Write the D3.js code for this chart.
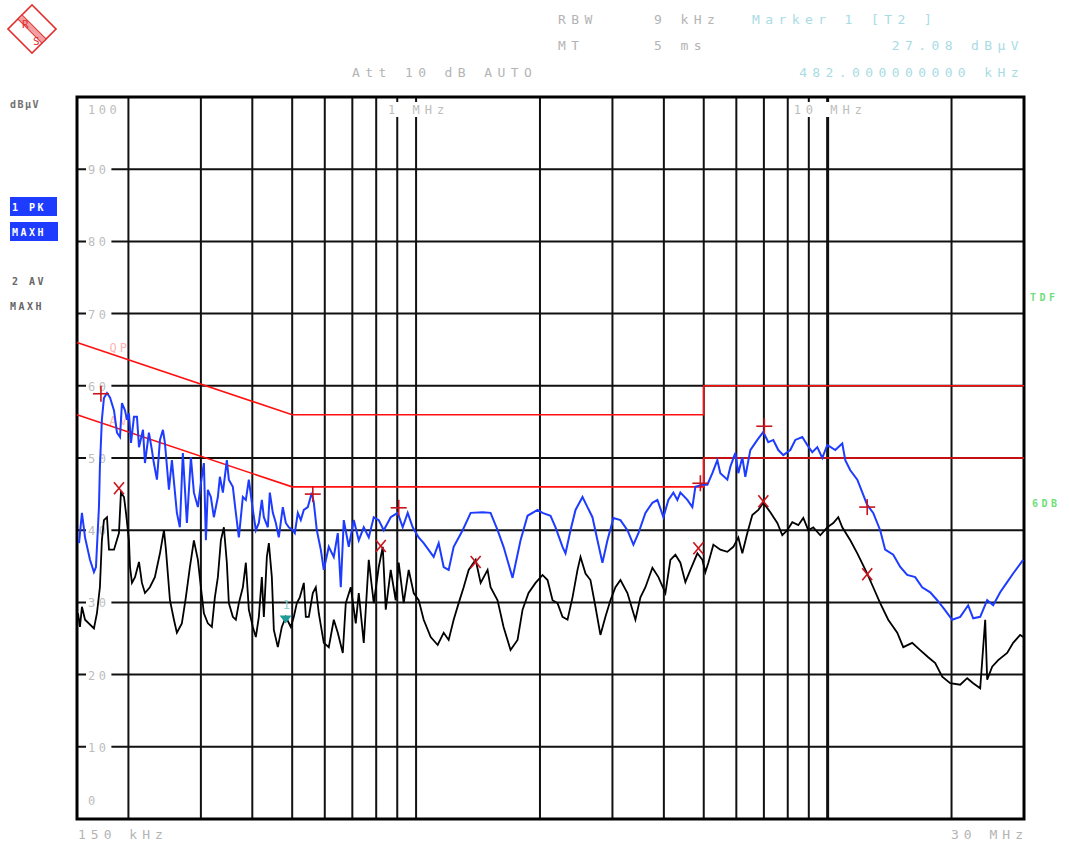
<!DOCTYPE html>
<html>
<head>
<meta charset="utf-8">
<script src="https://cdn.jsdelivr.net/npm/d3@7/dist/d3.min.js"></script>
<style>
  body { margin: 0; background: #fff; }
  text { font-family: "DejaVu Sans Mono", monospace; }
</style>
</head>
<body>
<svg id="emiChart"></svg>
<script>
// frequency in MHz, level in dBuV
let pkFreq = [0.1517,0.1542,0.1569,0.1613,0.1649,0.1668,0.1696,0.1705,0.1724,0.1744,0.1774,0.1804,0.1845,0.1876,0.1908,0.1929,0.1962,0.1984,0.2006,0.2029,0.2063,0.2098,0.2122,0.2170,0.2194,0.2243,0.2281,0.2306,0.2346,0.2386,0.2426,0.2453,0.2509,0.2551,0.2623,0.2667,0.2712,0.2774,0.2837,0.2885,0.2950,0.3000,0.3051,0.3085,0.3119,0.3172,0.3226,0.3299,0.3336,0.3393,0.3469,0.3508,0.3587,0.3648,0.3710,0.3794,0.3858,0.3923,0.4012,0.4080,0.4149,0.4219,0.4267,0.4363,0.4412,0.4487,0.4563,0.4639,0.4744,0.4825,0.4906,0.5017,0.5074,0.5160,0.5247,0.5336,0.5456,0.5580,0.5643,0.5738,
  0.5868,0.5967,0.6136,0.6310,0.6453,0.6562,0.6673,0.6862,0.7057,0.7256,0.7462,0.7674,0.7892,0.8115,0.8345,0.8677,0.9023,0.9279,0.9542,0.9813,1.0147,1.0435,1.1035,1.1348,1.1670,1.2000,1.2340,1.2977,1.3571,1.4513,1.5170,1.5776,1.6314,1.7156,1.7941,1.8657,1.9730,2.0289,2.1217,2.1819,2.2689,2.3073,2.3727,2.4400,2.5374,2.6085,2.6825,2.7584,2.8365,2.9172,3.0168,3.1373,3.2622,3.3734,3.4694,3.6080,3.7517,3.8585,3.9901,4.1024,4.2189,4.3140,4.3870,4.5624,4.6917,4.7711,4.9616,5.1024,5.2470,5.3950,5.4862,5.7058,5.8022,5.9668,6.0672,6.2046,6.3096,6.4884,6.7476,6.9777,7.1755,7.3791,7.5880,7.8034,8.1143,8.3444,8.6782,8.9237,9.1766,9.4376,9.7050,9.9796,10.436,10.853,11.037,11.351,11.806,12.479,12.905,13.417,13.797,14.434,15.012,15.607,16.321,16.970,17.752,18.463,19.307,20.072,20.994,21.953,22.576,23.479,24.416,25.249,26.260,27.302,28.233,29.855];
let pkLevel = [38.2,42.4,39,35.9,34.2,34.9,43.2,48.8,55.3,58.3,59,58.4,56.6,53.5,52.9,57.6,56.6,55.3,56.2,52.1,55.7,55.7,51.5,53.9,49.3,53.5,51.1,49.3,47,52.5,53.9,52.1,45.6,49.7,42.4,40.4,50.7,41,50.1,45.2,43.2,46.5,49.3,38.6,45.6,44.6,41.8,44.6,47.4,45.2,49.7,47,46,42.4,39,44.6,44.2,47,42.8,40,41,44.2,41.8,40.4,45.2,42.4,41,39,43.2,41,40.4,40,39.6,42.4,41.4,42.8,43.2,45.2,43.8,40,
  37.3,34.5,37.7,36.3,39.6,32.1,41.4,37.7,41.4,38.6,40.4,39,41.8,41.4,40,41.8,42.4,40.4,42.4,40.4,39,38.2,36.3,38.2,34.9,34.5,37.7,40,42.4,42.5,42.4,40,37.7,33.4,38.6,42,42.8,42.4,42,40.4,37.7,36.8,40,42.8,44.6,43.2,41.8,38.6,35.5,38.6,41.7,41.4,40,38,39.6,42.4,43.8,44.2,41.8,44.2,45.2,44.2,45.2,44.2,43.2,46,46.3,46.3,47.9,49.7,47.9,47,48.8,50.7,47.9,50.1,47.4,51.1,52.5,53.6,52.2,52.5,51.1,50.4,51.1,52.5,52.9,51.8,50.8,51.5,50,51.8,51.1,52,49.7,48.3,47,43.5,42.4,40,37.3,36.6,34.9,33.8,33.5,32.1,31.4,30.3,28.9,27.6,28,29.6,27.8,28,30.3,29.6,31.4,32.8,34,35.9];

let avFreq = [0.1508,0.1525,0.1542,0.1569,0.1649,0.1677,0.1705,0.1724,0.1744,0.1774,0.1794,0.1845,0.1897,0.1918,0.1951,0.1973,0.2006,0.2018,0.2040,0.2075,0.2122,0.2157,0.2194,0.2255,0.2319,0.2386,0.2440,0.2467,0.2523,0.2580,0.2623,0.2697,0.2758,0.2821,0.2885,0.2950,0.3000,0.3051,0.3119,0.3190,0.3244,0.3299,0.3355,0.3412,0.3469,0.3508,0.3587,0.3648,0.3710,0.3794,0.3858,0.3923,0.4012,0.4080,0.4149,0.4219,0.4267,0.4339,0.4388,0.4462,0.4512,0.4614,0.4718,0.4825,0.4962,0.5046,0.5131,0.5218,0.5336,0.5396,0.5487,0.5611,0.5706,0.5802,
  0.5967,0.6136,0.6310,0.6453,0.6636,0.6748,0.6939,0.7136,0.7256,0.7462,0.7674,0.7892,0.8115,0.8299,0.8439,0.8677,0.8923,0.9073,0.9331,0.9595,0.9868,1.0147,1.0435,1.0852,1.1285,1.1670,1.2000,1.2340,1.2690,1.3050,1.3420,1.3956,1.4351,1.4918,1.5170,1.5776,1.6314,1.6965,1.7642,1.8142,1.8761,1.9510,2.0289,2.0864,2.1456,2.2064,2.2689,2.3333,2.3994,2.4674,2.5092,2.5803,2.6526,2.7279,2.8050,2.8846,2.9666,3.0507,3.1373,3.2622,3.4114,3.5085,3.6080,3.7517,3.8800,4.0350,4.1487,4.2663,4.3870,4.5114,4.6395,4.8249,4.9616,5.0456,5.1308,5.2765,5.4862,5.7058,5.9004,6.0672,6.2046,6.3805,6.5614,6.7852,6.9777,7.2564,7.5460,7.7599,7.9794,8.2056,8.4860,8.7268,8.9734,9.2281,9.5971,9.9796,10.320,10.613,10.853,11.351,11.806,12.479,12.905,13.417,14.035,14.762,15.266,16.049,16.781,17.554,18.256,18.986,19.849,20.994,21.832,22.576,23.479,24.145,24.416,25.108,25.968,27.302,28.233,29.359,29.855];
let avLevel = [28.5,26.6,29.4,27.6,26.4,28.5,32.1,38.6,41.4,41.8,37.3,37.3,39.6,45.2,44.6,42.4,38.6,34.9,32.7,33.5,35.6,32.7,31.3,32.1,33.5,36.8,40,37.3,30.3,27.6,25.8,27.1,30.7,34.9,38.6,35.9,32.1,28.5,27.1,26.6,30.7,33.5,38.6,40.4,35.5,29.9,28,27.6,29.9,32.1,35.5,29,26.6,25.2,28,33.5,28,36.3,38.2,33.5,26.2,23.8,26.6,28,26.6,28,29.9,30.7,32.7,28,28,31.3,32.1,28.5,
  24.4,23.8,27.6,25.8,23,29.9,32.1,27.1,31.3,24.4,35.9,29.9,34.9,37.7,29,34.5,30.3,35.5,29.9,34.5,31.3,30.3,27.6,25.2,24.1,25.8,24.8,27.6,29.9,32.1,34.5,35.9,32.7,34.5,32.1,30.3,26.6,23.4,24.8,29,31.3,32.7,33.8,33.1,30.3,29.9,28,27.6,30.7,34.5,36.3,34,33.1,29.4,25.5,28,30.3,32.1,33.1,31.3,27.6,30.7,32.1,34.8,33.5,31.3,35.9,36.6,35.5,32.8,34.5,36.8,35.9,34.2,35.5,38,37.3,37,37.7,39,36.8,39.6,42.1,42.8,43.8,42.5,41,39.3,40,41.1,40.7,41.7,40,40.4,39.3,40.4,41,41.8,40.4,38.6,36.8,34,32.1,29.9,27.6,25.8,23.8,24.4,23.4,22.4,21.6,19.7,18.8,18.6,19.5,18.8,18.1,27.6,19.3,21.1,22,23,24.4,25.5,25.2];

// EN 55022 class B limits
let qpLimitFreq = [0.15,0.5,0.5,5,5,30];
let qpLimitLevel = [66,56,56,56,60,60];
let avLimitFreq = [0.15,0.5,0.5,5,5,30];
let avLimitLevel = [56,46,46,46,50,50];

let pkMarkFreq = [0.1715,0.5611,0.9073,4.906,7.017,12.479];
let pkMarkLevel = [58.9,45.0,43.1,46.5,54.4,43.2];
let avMarkFreq = [0.1897,0.8206,1.3956,4.852,6.978,12.479];
let avMarkLevel = [45.8,37.8,35.6,37.5,44.0,33.9];
let marker1 = {freq: 0.482, level: 27.08};

let gridFreqs = [0.2,0.3,0.4,0.5,0.6,0.7,0.8,0.9,1,2,3,4,5,6,7,8,9,10,20];
let yTicks = [0,10,20,30,40,50,60,70,80,90,100];

function getConfig(){
    let width = 1069;
    let height = 843;
    let plot = {left: 77, right: 1024, top: 97, bottom: 819};
    let svg = d3.select("#emiChart")
        .attr("width", width)
        .attr("height", height);
    svg.append("rect").attr("width", width).attr("height", height).attr("fill", "#fff");
    return {width, height, plot, svg};
}

function getScales(config){
    let {plot} = config;
    let xScale = d3.scaleLog()
        .domain([0.15, 30])
        .range([plot.left, plot.right]);
    let yScale = d3.scaleLinear()
        .domain([0, 100])
        .range([plot.bottom, plot.top]);
    return {xScale, yScale};
}

function drawGrid(scales, config){
    let {xScale, yScale} = scales;
    let {svg, plot} = config;
    let g = svg.append("g");
    g.selectAll(".vgrid")
        .data(gridFreqs)
        .enter().append("line")
        .attr("x1", d => xScale(d)).attr("x2", d => xScale(d))
        .attr("y1", plot.top).attr("y2", plot.bottom)
        .attr("stroke", "#111")
        .attr("stroke-width", d => d == 10 ? 3 : 2);
    g.selectAll(".hgrid")
        .data(yTicks.filter(d => d > 0 && d < 100))
        .enter().append("line")
        .attr("x1", plot.left).attr("x2", plot.right)
        .attr("y1", d => yScale(d)).attr("y2", d => yScale(d))
        .attr("stroke", "#111")
        .attr("stroke-width", 2);

    // y labels sit inside the plot on a white patch
    let labs = svg.append("g");
    yTicks.forEach(t => {
        let y = t == 100 ? yScale(t) + 17 : (t == 0 ? yScale(t) - 14 : yScale(t) + 5);
        let w = String(t).length * 10.7;
        labs.append("rect")
            .attr("x", plot.left + 9).attr("y", y - 11)
            .attr("width", w + 4).attr("height", 14)
            .attr("fill", "#fff");
        labs.append("text")
            .attr("x", plot.left + 11).attr("y", y)
            .text(t)
            .style("font-size", "12px")
            .style("letter-spacing", "3.5px")
            .style("fill", "#bdbdbd");
    });

    // decade labels at top
    [[1, "1 MHz"], [10, "10 MHz"]].forEach(([f, s]) => {
        let x = xScale(f) - (f == 1 ? 28 : 34);
        labs.append("rect")
            .attr("x", x - 2).attr("y", plot.top + 5)
            .attr("width", s.length * 12.2 + 2).attr("height", 15)
            .attr("fill", "#fff");
        labs.append("text")
            .attr("x", x).attr("y", plot.top + 17)
            .text(s)
            .style("font-size", "12px")
            .style("letter-spacing", "5px")
            .style("fill", "#bdbdbd");
    });

    svg.append("rect")
        .attr("x", plot.left).attr("y", plot.top)
        .attr("width", plot.right - plot.left)
        .attr("height", plot.bottom - plot.top)
        .attr("fill", "none")
        .attr("stroke", "#000")
        .attr("stroke-width", 3);
}

function drawLimits(scales, config){
    let {xScale, yScale} = scales;
    let {svg} = config;
    let line = d3.line().x(d => xScale(d[0])).y(d => yScale(d[1]));
    let qp = qpLimitFreq.map((f, i) => [f, qpLimitLevel[i]]);
    let av = avLimitFreq.map((f, i) => [f, avLimitLevel[i]]);
    svg.append("text").attr("x", xScale(0.18)).attr("y", yScale(66) + 10)
        .text("QP").style("font-size", "12px").style("fill", "#ffb4b4").style("letter-spacing", "3px");
    svg.append("text").attr("x", xScale(0.18)).attr("y", yScale(56) + 10)
        .text("AV").style("font-size", "12px").style("fill", "#ffb4b4").style("letter-spacing", "3px");
    [qp, av].forEach(pts => {
        svg.append("path")
            .attr("d", line(pts))
            .attr("fill", "none")
            .attr("stroke", "#ff1010")
            .attr("stroke-width", 1.6);
    });
}

function drawTraces(scales, config){
    let {xScale, yScale} = scales;
    let {svg} = config;
    let line = d3.line().x(d => xScale(d[0])).y(d => yScale(d[1]));
    let av = avFreq.map((f, i) => [f, avLevel[i]]);
    let pk = pkFreq.map((f, i) => [f, pkLevel[i]]);
    svg.append("path")
        .attr("d", line(av))
        .attr("fill", "none")
        .attr("stroke", "#000")
        .attr("stroke-width", 1.8);
    svg.append("path")
        .attr("d", line(pk))
        .attr("fill", "none")
        .attr("stroke", "#1e3cff")
        .attr("stroke-width", 2);
}

function drawMarkers(scales, config){
    let {xScale, yScale} = scales;
    let {svg} = config;
    let g = svg.append("g").attr("stroke", "#c8141e").attr("stroke-width", 1.6);
    pkMarkFreq.forEach((f, i) => {
        let x = xScale(f), y = yScale(pkMarkLevel[i]);
        g.append("line").attr("x1", x - 8).attr("x2", x + 8).attr("y1", y).attr("y2", y);
        g.append("line").attr("x1", x).attr("x2", x).attr("y1", y - 8).attr("y2", y + 8);
    });
    avMarkFreq.forEach((f, i) => {
        let x = xScale(f), y = yScale(avMarkLevel[i]);
        g.append("line").attr("x1", x - 5).attr("x2", x + 5).attr("y1", y - 6).attr("y2", y + 6);
        g.append("line").attr("x1", x - 5).attr("x2", x + 5).attr("y1", y + 6).attr("y2", y - 6);
    });
    let mx = xScale(marker1.freq), my = yScale(marker1.level);
    svg.append("path")
        .attr("d", `M${mx - 6},${my - 8} L${mx + 6},${my - 8} L${mx},${my} Z`)
        .attr("fill", "#1f9a9a");
    svg.append("text").attr("x", mx - 3).attr("y", my - 14)
        .text("1").style("font-size", "12px").style("fill", "#8fd0d0");
}

function drawText(config){
    let {svg} = config;
    let grey = "#b4b4b4", cyan = "#a8dce4";
    let txt = (x, y, s, fill, anchor, size, sp) => svg.append("text")
        .attr("x", x).attr("y", y)
        .attr("text-anchor", anchor || "start")
        .text(s)
        .style("font-size", (size || 13) + "px")
        .style("letter-spacing", (sp == null ? 5.4 : sp) + "px")
        .style("fill", fill);
    txt(558, 24, "RBW", grey);
    txt(654, 24, "9 kHz", grey);
    txt(752, 24, "Marker 1 [T2 ]", cyan);
    txt(558, 50, "MT", grey);
    txt(654, 50, "5 ms", grey);
    txt(1024, 50, "27.08 dBµV", cyan, "end");
    txt(352, 77, "Att 10 dB AUTO", grey);
    txt(1024, 77, "482.000000000 kHz", cyan, "end");
    txt(78, 839, "150 kHz", grey, "start", 13, 5);
    txt(1028, 839, "30 MHz", grey, "end", 13, 5);

    txt(10, 108, "dBµV", "#707070", "start", 10, 1.5).style("font-weight", "bold");

    svg.append("rect").attr("x", 10).attr("y", 197).attr("width", 47).attr("height", 19).attr("fill", "#1e3cff");
    svg.append("rect").attr("x", 10).attr("y", 222).attr("width", 48).attr("height", 19).attr("fill", "#1e3cff");
    txt(12, 211, "1 PK", "#fff", "start", 10, 2.5).style("font-weight", "bold");
    txt(12, 236, "MAXH", "#fff", "start", 10, 2.5).style("font-weight", "bold");
    txt(12, 285, "2 AV", "#666", "start", 10, 2.5).style("font-weight", "bold");
    txt(10, 310, "MAXH", "#666", "start", 10, 2.5).style("font-weight", "bold");

    txt(1030, 301, "TDF", "#6fe07a", "start", 10, 3.5).style("font-weight", "bold");
    txt(1032, 507, "6DB", "#6fe07a", "start", 10, 3.5).style("font-weight", "bold");

    // R&S logo
    let logo = svg.append("g").attr("transform", "translate(32,29) rotate(45)");
    logo.append("rect").attr("x", -17).attr("y", -17).attr("width", 34).attr("height", 34)
        .attr("fill", "none").attr("stroke", "#e03030").attr("stroke-width", 1.6);
    logo.append("rect").attr("x", -17).attr("y", -3).attr("width", 34).attr("height", 6)
        .attr("fill", "#f0a0a0").attr("stroke", "#e03030").attr("stroke-width", 1);
    svg.append("text").attr("x", 22).attr("y", 28).text("R")
        .style("font-size", "11px").style("fill", "#e03030");
    svg.append("text").attr("x", 33).attr("y", 45).text("S")
        .style("font-size", "11px").style("fill", "#e03030");
}

let config = getConfig();
let scales = getScales(config);
drawGrid(scales, config);
drawLimits(scales, config);
drawTraces(scales, config);
drawMarkers(scales, config);
drawText(config);
</script>
</body>
</html>
